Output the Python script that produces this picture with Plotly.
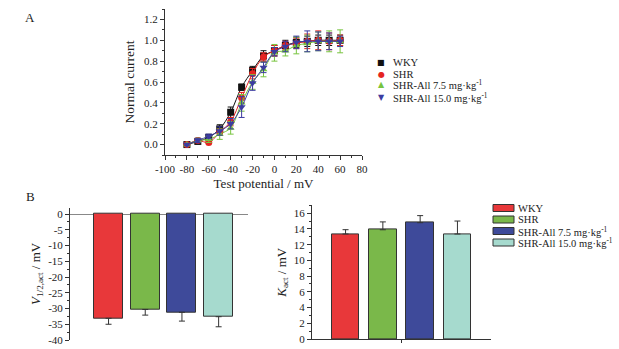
import plotly.graph_objects as go

W, H = 619, 349
FONT = "Liberation Serif"

# ---------------- Panel A data ----------------
potential = [-80, -70, -60, -50, -40, -30, -20, -10, 0, 10, 20, 30, 40, 50, 60]
series_names = ["WKY", "SHR", "SHR-All 7.5 mg·kg<sup>-1</sup>", "SHR-All 15.0 mg·kg<sup>-1</sup>"]
wky = [0.00, 0.03, 0.07, 0.15, 0.31, 0.55, 0.71, 0.85, 0.90, 0.95, 0.98, 0.99, 1.00, 1.00, 1.00]
shr = [0.00, 0.04, 0.02, 0.12, 0.22, 0.45, 0.68, 0.84, 0.90, 0.95, 0.97, 0.99, 1.00, 0.99, 1.00]
all75 = [0.00, 0.04, 0.05, 0.10, 0.16, 0.40, 0.60, 0.72, 0.88, 0.90, 0.95, 0.97, 0.99, 0.99, 0.99]
all15 = [0.00, 0.04, 0.08, 0.13, 0.20, 0.36, 0.59, 0.74, 0.89, 0.94, 0.98, 0.99, 0.99, 0.99, 0.99]
wky_err = [0.01, 0.02, 0.02, 0.04, 0.05, 0.03, 0.04, 0.05, 0.05, 0.05, 0.05, 0.05, 0.05, 0.05, 0.05]
shr_err = [0.01, 0.02, 0.01, 0.03, 0.04, 0.05, 0.05, 0.04, 0.05, 0.04, 0.05, 0.07, 0.09, 0.08, 0.05]
all75_err = [0.01, 0.02, 0.03, 0.05, 0.06, 0.08, 0.07, 0.07, 0.08, 0.05, 0.08, 0.08, 0.09, 0.10, 0.11]
all15_err = [0.01, 0.02, 0.02, 0.04, 0.05, 0.10, 0.07, 0.05, 0.04, 0.05, 0.06, 0.10, 0.09, 0.08, 0.05]
line_colors = ["#111111", "#e52421", "#78c43f", "#3c3ca0"]
symbols = ["square", "circle", "triangle-up", "triangle-down"]
legend_glyphs = ["■", "●", "▲", "▼"]
xticks_a = [-100, -80, -60, -40, -20, 0, 20, 40, 60, 80]
yticks_a = [0.0, 0.2, 0.4, 0.6, 0.8, 1.0, 1.2]

# ---------------- Panel B data ----------------
groups = ["WKY", "SHR", "SHR-All 7.5 mg·kg<sup>-1</sup>", "SHR-All 15.0 mg·kg<sup>-1</sup>"]
v_half = [-33.1, -30.3, -31.2, -32.6]
v_half_err = [1.9, 1.8, 2.8, 3.2]
k_act = [13.36, 13.9, 14.8, 13.36]
k_act_err = [0.55, 1.0, 0.9, 1.65]
bar_colors = ["#e8383a", "#7ab84a", "#3e4a9a", "#a6dace"]
yticks_v = [0, -5, -10, -15, -20, -25, -30, -35, -40]
yticks_k = [0, 2, 4, 6, 8, 10, 12, 14, 16]

fig = go.Figure()

def px(x):
    return x / W

def py(y):
    return 1 - y / H

# Panel A traces
for name, ys, es, col, sym in zip(series_names, [wky, shr, all75, all15],
                                  [wky_err, shr_err, all75_err, all15_err],
                                  line_colors, symbols):
    fig.add_trace(go.Scatter(
        x=potential, y=ys, mode="lines+markers", name=name,
        line=dict(color=col, width=1, shape="spline"),
        marker=dict(symbol=sym, size=7, color=col),
        error_y=dict(type="data", array=es, color=col, thickness=1, width=3),
        xaxis="x", yaxis="y", showlegend=False))

# Panel B left
xs = [0, 1, 2, 3]
fig.add_trace(go.Bar(
    x=xs, y=v_half, width=0.79,
    marker=dict(color=bar_colors, line=dict(color="#333333", width=1)),
    error_y=dict(type="data", symmetric=False, array=[0, 0, 0, 0], arrayminus=v_half_err,
                 color="#333333", thickness=1, width=3),
    xaxis="x2", yaxis="y2", showlegend=False))

# Panel B right
fig.add_trace(go.Bar(
    x=xs, y=k_act, width=0.74,
    marker=dict(color=bar_colors, line=dict(color="#333333", width=1)),
    error_y=dict(type="data", symmetric=False, array=k_act_err, arrayminus=[0, 0, 0, 0],
                 color="#333333", thickness=1, width=3),
    xaxis="x3", yaxis="y3", showlegend=False))

axis_common = dict(showgrid=False, zeroline=False, showline=True, linecolor="#333333",
                   linewidth=1, ticks="outside", ticklen=4, tickcolor="#333333",
                   tickangle=0, automargin=False,
                   tickfont=dict(family=FONT, size=11, color="#222"))

def fmt(v, d=0):
    return f"{v:.{d}f}"

fig.update_layout(
    width=W, height=H, margin=dict(l=0, r=0, t=0, b=0, autoexpand=False),
    paper_bgcolor="white", plot_bgcolor="white",
    font=dict(family=FONT, color="#222"),
    bargap=0,
    xaxis=dict(axis_common, domain=[px(165), px(362)], range=[-100, 80],
               tickvals=xticks_a, ticktext=[fmt(v) for v in xticks_a],
               minor=dict(ticks="outside", ticklen=2, dtick=10, tickcolor="#333333"),
               title=dict(text="Test potential / mV", font=dict(family=FONT, size=13), standoff=4),
               anchor="y"),
    yaxis=dict(axis_common, domain=[py(155), py(9)], range=[-0.1, 1.3],
               tickvals=yticks_a, ticktext=[fmt(v, 1) for v in yticks_a],
               minor=dict(ticks="outside", ticklen=2, dtick=0.1, tickcolor="#333333"),
               title=dict(text="Normal current", font=dict(family=FONT, size=13.5), standoff=6),
               anchor="x"),
    xaxis2=dict(domain=[px(70), px(248)], range=[-1.05, 3.8], showline=False, showgrid=False,
                zeroline=False, showticklabels=False, ticks="", automargin=False, anchor="y2"),
    yaxis2=dict(axis_common, domain=[py(340), py(207.7)], range=[-40, 2],
                tickvals=yticks_v, ticktext=[fmt(v) for v in yticks_v],
                minor=dict(ticks="outside", ticklen=2, dtick=2.5, tickcolor="#333333"),
                zeroline=True, zerolinecolor="#888888", zerolinewidth=1,
                title=dict(text="<i>V</i><sub>1/2,act</sub> / mV", font=dict(family=FONT, size=13), standoff=4),
                anchor="x2"),
    xaxis3=dict(axis_common, domain=[px(312), px(491)], range=[-0.9, 3.9],
                tickvals=[1.5], ticktext=[""], ticklen=3, anchor="y3"),
    yaxis3=dict(axis_common, domain=[py(339), py(205.4)], range=[0, 17],
                tickvals=yticks_k, ticktext=[fmt(v) for v in yticks_k],
                minor=dict(ticks="outside", ticklen=2, dtick=1, tickcolor="#333333"),
                title=dict(text="<i>K</i><sub>act</sub> / mV", font=dict(family=FONT, size=13), standoff=4),
                anchor="x3"),
)

annotations = [
    dict(xref="paper", yref="paper", x=px(30), y=py(17), text="A", showarrow=False,
         xanchor="center", yanchor="middle", font=dict(family=FONT, size=13, color="#222")),
    dict(xref="paper", yref="paper", x=px(30), y=py(196), text="B", showarrow=False,
         xanchor="center", yanchor="middle", font=dict(family=FONT, size=13, color="#222")),
]
shapes = []

# Panel A legend
rows_a = [63, 74, 85, 97]
for name, col, g, ry in zip(series_names, line_colors, legend_glyphs, rows_a):
    annotations.append(dict(xref="paper", yref="paper", x=px(381), y=py(ry), text=g,
                            showarrow=False, xanchor="center", yanchor="middle",
                            font=dict(family="DejaVu Sans", size=8, color=col)))
    annotations.append(dict(xref="paper", yref="paper", x=px(391), y=py(ry), text=name,
                            showarrow=False, xanchor="left", yanchor="middle",
                            font=dict(family=FONT, size=10.5, color="#222")))

# Panel B legend
rows_b = [208, 219.5, 231, 242.5]
for name, col, ry in zip(groups, bar_colors, rows_b):
    shapes.append(dict(type="rect", xref="paper", yref="paper",
                       x0=px(493), x1=px(514), y0=py(ry + 3.5), y1=py(ry - 3.5),
                       fillcolor=col, line=dict(color="#333333", width=1)))
    annotations.append(dict(xref="paper", yref="paper", x=px(516), y=py(ry), text=name,
                            showarrow=False, xanchor="left", yanchor="middle",
                            font=dict(family=FONT, size=10.5, color="#222")))

fig.update_layout(annotations=annotations, shapes=shapes)

fig.write_html("out.html", config={"displayModeBar": False},
               post_script="document.body.style.margin='0';document.body.style.overflow='hidden';")
